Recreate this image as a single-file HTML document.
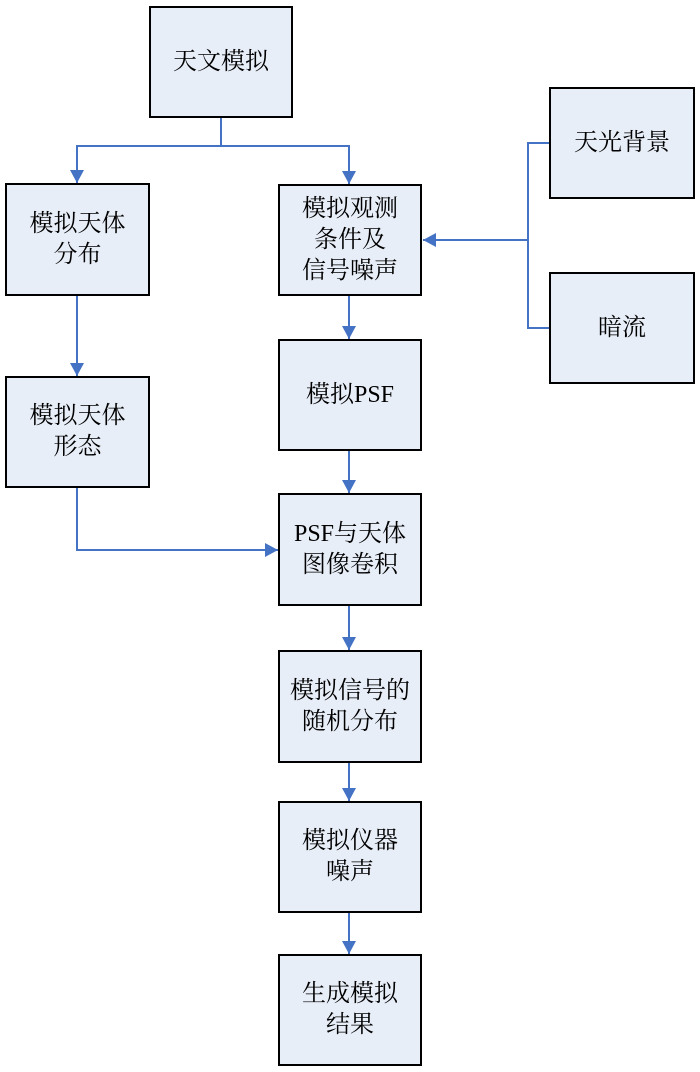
<!DOCTYPE html>
<html><head><meta charset="utf-8"><style>
body{margin:0;width:700px;height:1072px;background:#fff;position:relative;overflow:hidden}
.b{position:absolute;box-sizing:border-box;border:2px solid #000;background:#e8eef8;display:flex;align-items:center;justify-content:center;text-align:center;font-family:"Liberation Serif","Noto Serif CJK SC",serif;font-size:24px;line-height:31px;color:#000}
svg{position:absolute;left:0;top:0}
</style></head><body>
<svg width="700" height="1072">
<defs><marker id="a" markerWidth="14" markerHeight="14" refX="13" refY="7" orient="auto" markerUnits="userSpaceOnUse"><path d="M0,0 L13,7 L0,14z" fill="#4472c4"/></marker></defs>
<g stroke="#4472c4" stroke-width="2" fill="none">
<path d="M221,117 V146 H77 V183" marker-end="url(#a)"/>
<path d="M221,146 H349 V184" marker-end="url(#a)"/>
<path d="M550,143 H528 V328 H550"/>
<path d="M528,240 H423" marker-end="url(#a)"/>
<path d="M77,295 V376" marker-end="url(#a)"/>
<path d="M77,487 V550 H278" marker-end="url(#a)"/>
<path d="M349,295 V339" marker-end="url(#a)"/>
<path d="M349,450 V493" marker-end="url(#a)"/>
<path d="M349,605 V650" marker-end="url(#a)"/>
<path d="M349,762 V801" marker-end="url(#a)"/>
<path d="M349,912 V954" marker-end="url(#a)"/>
</g></svg>
<div class="b" style="left:149px;top:6px;width:144px;height:112px">天文模拟</div>
<div class="b" style="left:5px;top:183px;width:145px;height:113px">模拟天体<br>分布</div>
<div class="b" style="left:278px;top:184px;width:144px;height:112px">模拟观测<br>条件及<br>信号噪声</div>
<div class="b" style="left:549px;top:87px;width:146px;height:112px">天光背景</div>
<div class="b" style="left:549px;top:272px;width:146px;height:112px">暗流</div>
<div class="b" style="left:5px;top:376px;width:145px;height:112px">模拟天体<br>形态</div>
<div class="b" style="left:278px;top:339px;width:144px;height:112px">模拟PSF</div>
<div class="b" style="left:278px;top:493px;width:144px;height:113px">PSF与天体<br>图像卷积</div>
<div class="b" style="left:278px;top:650px;width:144px;height:113px">模拟信号的<br>随机分布</div>
<div class="b" style="left:278px;top:801px;width:144px;height:112px">模拟仪器<br>噪声</div>
<div class="b" style="left:278px;top:954px;width:144px;height:112px">生成模拟<br>结果</div>
</body></html>
